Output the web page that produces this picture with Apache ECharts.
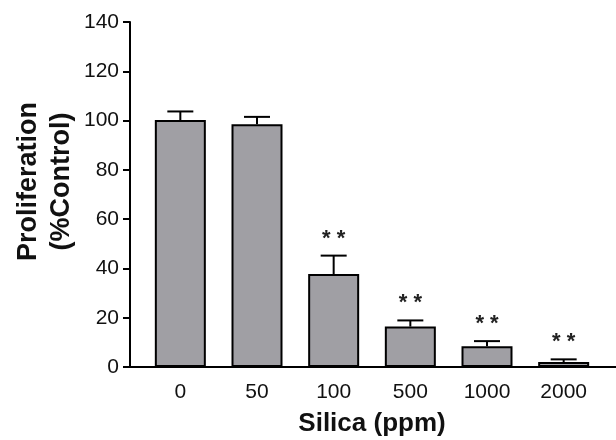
<!DOCTYPE html>
<html>
<head>
<meta charset="utf-8">
<script src="https://cdn.jsdelivr.net/npm/echarts@6/dist/echarts.min.js"></script>
<style>
  html, body { margin: 0; padding: 0; background: #fff; }
  #chart { width: 616px; height: 440px; }
</style>
</head>
<body>
<div id="chart"></div>
<script>
// data
var doses = ['0', '50', '100', '500', '1000', '2000']
var means = [100.2, 98.5, 37.7, 16.4, 8.4, 2.0]
var errs = [3.5, 3.0, 7.5, 2.5, 2.1, 1.1]
var marks = ['', '', '**', '**', '**', '**']
var yTicks = [0, 20, 40, 60, 80, 100, 120, 140]

var chartDom = document.getElementById('chart')
var myChart = echarts.init(chartDom)
var option

var errData = means.map(function (m, i) { return [i, m, m + errs[i], marks[i]] })

option = {
  animation: false,
  grid: {
    left: 142,
    right: 14,
    top: 22,
    bottom: 73,
    containLabel: false,
    outerBoundsMode: 'none'
  },
  xAxis: {
    type: 'category',
    data: doses,
    name: 'Silica (ppm)',
    nameLocation: 'middle',
    nameGap: 44,
    nameMoveOverlap: false,
    nameTextStyle: {
      fontFamily: 'Liberation Sans, Arial',
      fontSize: 26,
      fontWeight: 'bold',
      color: '#111'
    },
    axisLine: { lineStyle: { color: '#000', width: 2 } },
    axisTick: { show: false },
    axisLabel: {
      fontFamily: 'Liberation Sans, Arial',
      fontSize: 21,
      color: '#111',
      margin: 15
    }
  },
  yAxis: {
    type: 'value',
    min: yTicks[0],
    max: yTicks[yTicks.length - 1],
    interval: 20,
    offset: 12,
    name: 'Proliferation\n(%Control)',
    nameLocation: 'middle',
    nameGap: 52,
    nameMoveOverlap: false,
    nameTextStyle: {
      fontFamily: 'Liberation Sans, Arial',
      fontSize: 27,
      fontWeight: 'bold',
      color: '#111',
      lineHeight: 33,
      padding: [0, 0, 0, 26]
    },
    splitLine: { show: false },
    axisLine: { show: true, lineStyle: { color: '#000', width: 2 } },
    axisTick: { show: true, length: 7, lineStyle: { color: '#000', width: 2 } },
    axisLabel: {
      fontFamily: 'Liberation Sans, Arial',
      fontSize: 21,
      color: '#111',
      margin: 11
    }
  },
  series: [
    {
      type: 'bar',
      data: means,
      barWidth: 51,
      itemStyle: {
        color: '#a09fa4',
        borderColor: '#000',
        borderWidth: 2
      },
      z: 2
    },
    {
      type: 'custom',
      data: errData,
      z: 3,
      renderItem: function (params, api) {
        var base = api.coord([api.value(0), api.value(1)])
        var top = api.coord([api.value(0), api.value(2)])
        var capHalf = 13
        var children = [
          {
            type: 'line',
            shape: { x1: base[0], y1: base[1], x2: top[0], y2: top[1] },
            style: { stroke: '#000', lineWidth: 2 }
          },
          {
            type: 'line',
            shape: { x1: top[0] - capHalf, y1: top[1], x2: top[0] + capHalf, y2: top[1] },
            style: { stroke: '#000', lineWidth: 2 }
          }
        ]
        var mk = marks[params.dataIndex]
        if (mk) {
          children.push({
            type: 'text',
            x: top[0],
            y: top[1] - 6,
            style: {
              text: mk.split('').join(' '),
              fontFamily: 'Liberation Sans, Arial',
              fontSize: 22,
              fontWeight: 'bold',
              fill: '#222',
              align: 'center',
              verticalAlign: 'bottom'
            }
          })
        }
        return { type: 'group', children: children }
      }
    }
  ]
}

option && myChart.setOption(option)

// the baseline runs from the y axis to the right edge
var zero = myChart.convertToPixel({ gridIndex: 0 }, [0, 0])
myChart.setOption({
  graphic: [
    { type: 'line', shape: { x1: 129, y1: zero[1], x2: 143, y2: zero[1] }, style: { stroke: '#000', lineWidth: 2 } },
    { type: 'line', shape: { x1: 601, y1: zero[1], x2: 616, y2: zero[1] }, style: { stroke: '#000', lineWidth: 2 } }
  ]
})
</script>
</body>
</html>
